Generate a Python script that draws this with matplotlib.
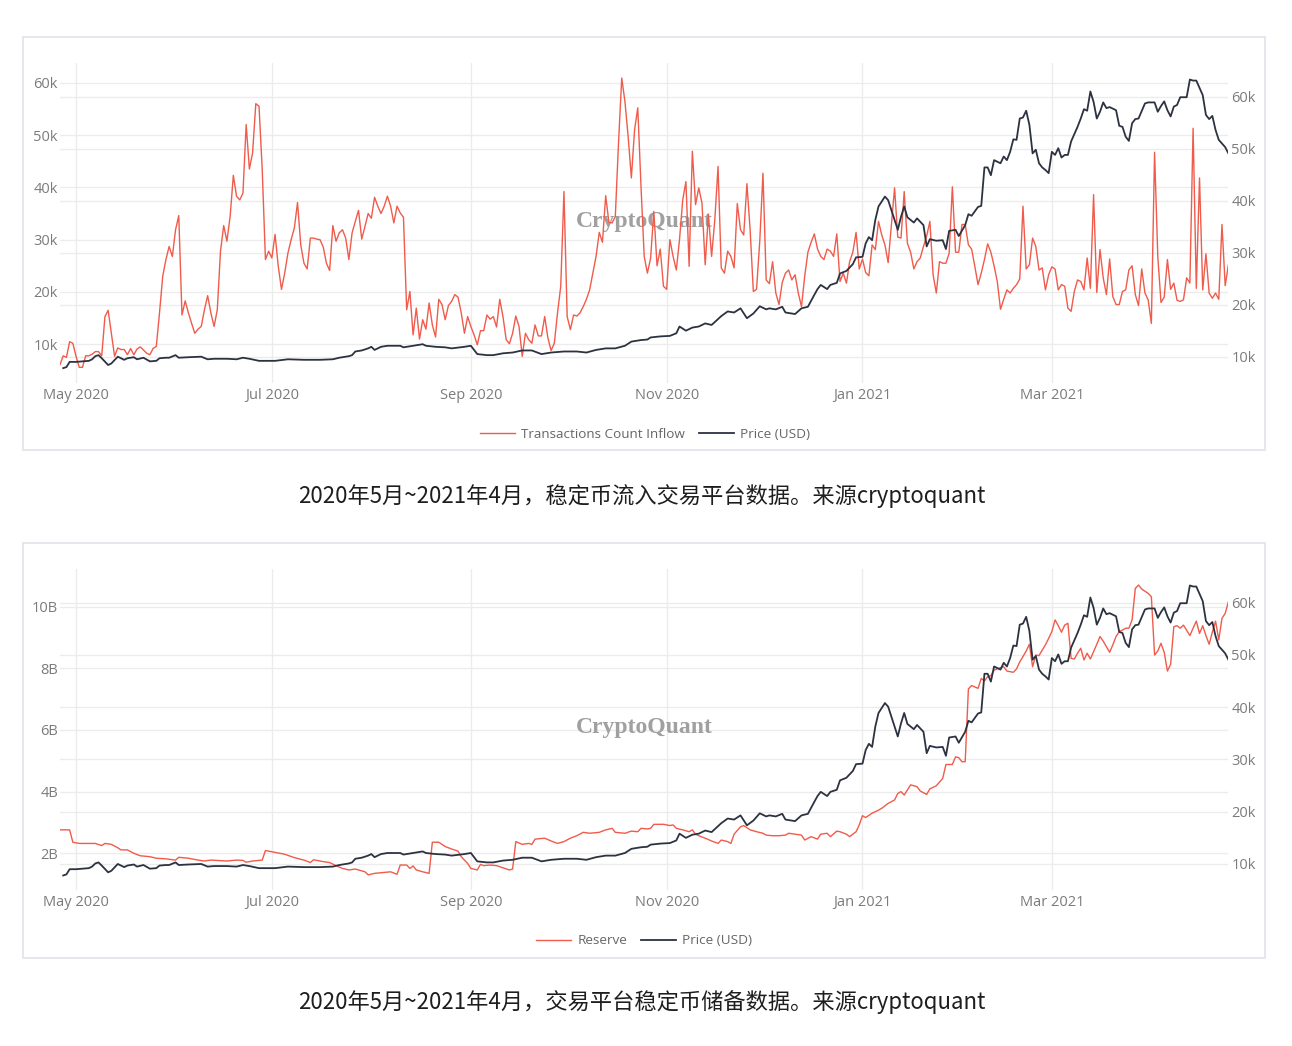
import matplotlib.pyplot as plt
import matplotlib.dates as mdates
from matplotlib.lines import Line2D
from matplotlib.patches import Rectangle
from matplotlib.ticker import FuncFormatter
import pandas as pd

plt.rcParams.update({
    "font.family": ["Open Sans", "Noto Sans CJK SC", "DejaVu Sans"],
    "font.size": 10,
    "axes.unicode_minus": False,
})

START = pd.Timestamp("2020-04-26")
END = pd.Timestamp("2021-04-25")

# stablecoin inflow transaction count (thousands), one value per day from START
inflow_k = [
    6.1, 7.8, 7.5, 10.5, 10.2, 7.7, 5.6, 5.6, 7.8, 7.8,
    8.1, 8.6, 8.6, 7.8, 15.3, 16.5, 12.1, 7.7, 9.3, 9.0,
    9.0, 8.0, 9.2, 8.0, 9.1, 9.5, 8.9, 8.3, 8.0, 9.2,
    9.6, 16.0, 23.0, 26.2, 28.7, 26.8, 31.9, 34.6, 15.6, 18.3,
    16.0, 14.0, 12.1, 12.9, 13.4, 16.6, 19.3, 16.0, 13.4, 16.6,
    27.8, 32.7, 29.7, 34.4, 42.3, 38.3, 37.6, 38.9, 52.0, 43.5,
    46.6, 56.0, 55.5, 43.4, 26.2, 27.8, 26.5, 31.0, 24.9, 20.5,
    23.6, 27.4, 30.0, 32.2, 37.1, 29.0, 25.5, 24.4, 30.3, 30.3,
    30.1, 30.0, 28.6, 25.5, 24.1, 32.7, 29.7, 31.3, 31.9, 30.3,
    26.2, 31.3, 33.5, 35.6, 30.1, 32.5, 35.0, 34.1, 38.1, 36.4,
    35.0, 36.4, 38.3, 36.4, 33.2, 36.4, 35.1, 34.3, 16.6, 20.1,
    11.8, 16.9, 11.0, 14.7, 12.9, 17.9, 13.7, 11.4, 18.6, 17.6,
    14.7, 17.4, 18.2, 19.5, 19.0, 16.0, 12.1, 15.3, 13.4, 11.8,
    9.9, 12.6, 12.6, 15.6, 14.8, 15.3, 13.3, 18.6, 15.3, 10.9,
    10.1, 12.1, 15.4, 13.4, 7.7, 12.1, 10.9, 10.2, 13.7, 11.6,
    11.6, 15.3, 11.2, 8.8, 10.2, 16.0, 21.1, 39.2, 15.3, 12.8,
    15.6, 15.4, 16.0, 17.2, 18.6, 20.4, 23.6, 26.8, 31.4, 29.5,
    38.4, 33.3, 33.2, 34.4, 48.5, 60.9, 56.4, 49.7, 41.8, 51.0,
    55.2, 40.2, 26.8, 23.6, 26.5, 35.4, 25.0, 28.2, 21.1, 20.5,
    30.0, 26.8, 24.2, 30.0, 37.6, 41.1, 24.9, 46.9, 36.7, 39.9,
    37.0, 25.2, 34.8, 26.8, 33.8, 44.0, 24.6, 23.6, 27.8, 26.8,
    24.6, 36.9, 31.9, 30.9, 40.7, 31.9, 20.1, 20.5, 29.7, 42.7,
    22.3, 21.6, 25.8, 19.8, 17.6, 21.8, 23.6, 24.2, 22.3, 23.3,
    19.8, 17.2, 23.0, 27.6, 29.5, 31.1, 28.2, 26.8, 26.2, 28.2,
    27.8, 26.8, 31.1, 22.0, 23.6, 21.7, 25.8, 27.6, 31.4, 24.4,
    26.3, 23.7, 23.1, 29.0, 28.1, 33.5, 30.9, 29.0, 25.6, 32.7,
    39.9, 30.5, 30.3, 39.2, 29.3, 27.6, 24.4, 25.8, 26.5, 28.7,
    30.7, 33.5, 23.3, 19.8, 25.8, 25.5, 25.5, 27.4, 40.1, 27.6,
    27.6, 32.9, 32.9, 29.0, 28.2, 24.9, 21.4, 23.6, 26.2, 29.2,
    27.6, 25.0, 22.0, 16.7, 18.6, 20.4, 19.8, 20.7, 21.4, 22.5,
    36.4, 24.4, 25.2, 30.3, 28.7, 24.2, 24.6, 20.4, 23.3, 24.8,
    24.4, 20.4, 21.4, 21.1, 16.9, 16.3, 20.1, 22.3, 22.0, 20.4,
    26.5, 20.7, 38.6, 19.9, 28.1, 22.7, 19.5, 26.3, 19.1, 17.6,
    17.6, 20.1, 20.4, 24.2, 25.0, 19.5, 17.4, 24.4, 19.8, 18.5,
    14.0, 46.7, 26.8, 18.0, 19.0, 26.2, 20.5, 21.7, 18.4, 18.2,
    18.5, 22.7, 21.7, 51.3, 20.7, 41.8, 20.4, 27.3, 19.8, 18.8,
    19.8, 18.6, 32.9, 21.2, 25.2,
]

# BTC price (thousand USD), day offset from START
price_day = [
    1, 2, 3, 5, 9, 10, 11, 12, 13, 15, 16, 18, 20, 21, 23, 24, 26, 28, 30, 31,
    33, 34, 36, 37, 40, 44, 46, 48, 52, 55, 57, 59, 62, 67, 71, 76, 81, 85, 87, 90,
    91, 92, 94, 96, 97, 98, 100, 102, 104, 106, 107, 110, 113, 114, 117, 120, 122, 126, 128, 129,
    130, 133, 135, 138, 141, 144, 147, 150, 153, 157, 161, 164, 167, 170, 173, 176, 178, 181, 183, 184,
    187, 190, 192, 193, 195, 197, 199, 201, 203, 206, 208, 210, 212, 214, 216, 218, 220, 221, 223, 225,
    226, 229, 231, 233, 235, 236, 237, 239, 240, 242, 243, 245, 247, 248, 250, 251, 252, 253, 254, 255,
    257, 258, 260, 261, 262, 263, 264, 266, 267, 269, 270, 271, 273, 275, 276, 277, 279, 280, 282, 283,
    284, 286, 287, 288, 289, 290, 291, 292, 293, 294, 295, 296, 297, 298, 299, 300, 301, 302, 303, 304,
    305, 306, 307, 308, 309, 310, 311, 312, 313, 314, 315, 317, 318, 319, 320, 321, 322, 323, 324, 325,
    326, 327, 329, 330, 331, 332, 333, 334, 335, 336, 338, 339, 341, 342, 343, 344, 345, 346, 347, 348,
    349, 351, 352, 353, 354, 356, 357, 358, 359, 360, 361, 362, 363, 364,
]
price_k = [
    7.8, 8.0, 9.0, 9.0, 9.2, 9.5, 10.1, 10.3, 9.7, 8.4, 8.7, 10.0, 9.4, 9.7, 9.9, 9.5, 9.8, 9.1, 9.2, 9.7,
    9.8, 9.8, 10.3, 9.8, 9.9, 10.0, 9.5, 9.6, 9.6, 9.5, 9.8, 9.6, 9.2, 9.2, 9.5, 9.4, 9.4, 9.5, 9.8, 10.1,
    10.3, 11.0, 11.2, 11.6, 11.9, 11.3, 11.9, 12.1, 12.1, 12.1, 11.8, 12.1, 12.4, 12.1, 11.9, 11.8, 11.6, 11.9, 12.1, 11.3,
    10.5, 10.3, 10.3, 10.65, 10.8, 11.2, 11.2, 10.5, 10.8, 11.0, 11.0, 10.8, 11.3, 11.6, 11.6, 12.1, 12.9, 13.2, 13.3, 13.7,
    13.9, 14.0, 14.5, 15.8, 15.0, 15.6, 15.8, 16.4, 16.1, 17.8, 18.7, 18.5, 19.3, 17.4, 18.3, 19.7, 19.1, 19.3, 19.1, 19.6,
    18.5, 18.2, 19.3, 19.6, 21.9, 23.0, 23.8, 23.0, 23.8, 24.2, 26.0, 26.5, 27.8, 29.1, 29.2, 31.8, 33.0, 32.4, 36.3, 38.9,
    40.8, 40.1, 36.3, 34.4, 36.9, 38.9, 36.8, 35.8, 36.6, 35.3, 31.2, 32.6, 32.3, 32.4, 30.7, 34.2, 34.4, 33.2, 35.3, 37.4,
    37.1, 38.8, 39.0, 46.4, 46.4, 44.9, 47.8, 47.5, 47.2, 48.5, 47.8, 49.4, 51.8, 51.7, 55.8, 56.0, 57.3, 54.6, 49.1, 49.8,
    47.2, 46.4, 45.9, 45.3, 49.4, 48.8, 50.1, 48.3, 48.8, 48.8, 51.4, 54.2, 55.8, 57.6, 57.3, 61.0, 59.0, 55.8, 57.1, 58.9,
    57.8, 58.0, 57.4, 54.4, 54.2, 52.3, 51.5, 54.9, 55.7, 55.8, 58.7, 58.9, 58.9, 57.1, 58.2, 59.1, 57.4, 56.2, 58.1, 58.4,
    59.9, 59.9, 63.3, 63.1, 63.1, 60.3, 56.5, 55.7, 56.3, 53.6, 51.7, 51.0, 50.3, 49.1,
]

# exchange stablecoin reserve (billion USD), day offset from START
reserve_day = [
    0, 3, 4, 6, 11, 13, 14, 16, 18, 19, 21, 23, 25, 28, 30, 33, 36, 37, 40, 43,
    45, 47, 50, 52, 55, 57, 58, 60, 62, 63, 64, 67, 70, 73, 76, 78, 79, 82, 84, 86,
    88, 90, 92, 95, 96, 98, 101, 103, 105, 106, 108, 109, 110, 111, 113, 115, 116, 118, 120, 122,
    124, 125, 127, 128, 130, 131, 132, 134, 136, 138, 140, 141, 142, 144, 146, 147, 148, 151, 153, 155,
    157, 159, 161, 163, 165, 168, 170, 172, 173, 176, 178, 180, 181, 183, 184, 185, 188, 190, 191, 192,
    194, 196, 197, 198, 199, 201, 203, 205, 206, 208, 209, 210, 212, 213, 215, 217, 219, 220, 222, 224,
    226, 227, 229, 231, 232, 234, 236, 237, 239, 240, 242, 243, 245, 246, 248, 249, 250, 251, 253, 255,
    256, 258, 260, 261, 262, 263, 265, 267, 268, 270, 271, 273, 275, 276, 278, 279, 280, 281, 282, 283,
    284, 286, 287, 288, 289, 290, 291, 293, 294, 295, 297, 298, 299, 300, 301, 302, 303, 304, 305, 306,
    307, 308, 309, 310, 311, 312, 313, 314, 315, 316, 317, 318, 319, 320, 321, 322, 323, 324, 325, 327,
    328, 329, 330, 331, 332, 333, 334, 335, 336, 337, 339, 340, 341, 342, 343, 344, 345, 346, 347, 348,
    349, 350, 352, 353, 354, 355, 356, 357, 358, 359, 360, 361, 362, 363, 364,
]
reserve_b = [
    2.76, 2.76, 2.36, 2.32, 2.32, 2.25, 2.32, 2.29, 2.18, 2.11, 2.11, 2.00, 1.92, 1.89, 1.84, 1.82, 1.78, 1.87, 1.84, 1.78,
    1.75, 1.78, 1.76, 1.75, 1.78, 1.77, 1.71, 1.75, 1.77, 1.78, 2.09, 2.03, 1.97, 1.86, 1.78, 1.70, 1.79, 1.73, 1.70, 1.60,
    1.51, 1.46, 1.49, 1.40, 1.30, 1.35, 1.38, 1.40, 1.32, 1.62, 1.62, 1.51, 1.59, 1.46, 1.40, 1.35, 2.36, 2.36, 2.22, 2.14,
    2.07, 1.89, 1.67, 1.51, 1.46, 1.64, 1.60, 1.62, 1.60, 1.53, 1.46, 1.49, 2.38, 2.29, 2.32, 2.29, 2.46, 2.49, 2.40, 2.32,
    2.38, 2.49, 2.57, 2.68, 2.65, 2.68, 2.76, 2.81, 2.68, 2.65, 2.72, 2.70, 2.81, 2.79, 2.81, 2.94, 2.94, 2.90, 2.92, 2.81,
    2.76, 2.70, 2.76, 2.62, 2.57, 2.49, 2.40, 2.32, 2.43, 2.38, 2.32, 2.62, 2.86, 2.90, 2.76, 2.70, 2.65, 2.59, 2.57, 2.57,
    2.59, 2.65, 2.62, 2.59, 2.43, 2.54, 2.46, 2.62, 2.65, 2.54, 2.72, 2.70, 2.62, 2.54, 2.70, 2.92, 3.22, 3.16, 3.30, 3.40,
    3.46, 3.62, 3.73, 3.94, 4.00, 3.89, 4.22, 4.16, 4.02, 3.91, 4.09, 4.19, 4.43, 4.88, 4.88, 5.13, 5.10, 4.97, 4.97, 7.33,
    7.44, 7.35, 7.67, 7.59, 7.73, 7.76, 7.94, 8.02, 8.05, 7.91, 7.87, 7.98, 8.21, 8.38, 8.56, 8.78, 8.05, 8.43, 8.41, 8.59,
    8.76, 8.97, 9.19, 9.57, 9.38, 9.17, 9.40, 9.46, 8.32, 8.30, 8.49, 8.65, 8.27, 8.49, 8.30, 8.54, 8.78, 9.03, 8.88, 8.52,
    8.76, 9.03, 9.19, 9.24, 9.30, 9.30, 9.57, 10.59, 10.70, 10.57, 10.43, 10.32, 8.43, 8.56, 8.81, 8.52, 7.91, 8.13, 9.35, 9.38,
    9.30, 9.40, 9.06, 9.30, 9.53, 9.13, 9.38, 9.06, 8.78, 9.17, 9.53, 8.92, 9.62, 9.78, 10.16,
]

RED = "#f05b4b"
DARK = "#2d3241"
GRID = "#ececec"
TICK = "#7b7b7b"
W, H = 1292, 1046


def to_dates(days):
    return START + pd.to_timedelta(days, unit="D")


def style_panel(ax, axr, ylim_l, ylim_r, left_ticks, left_fmt, right_ticks):
    ax.set_xlim(START, END)
    ax.set_ylim(*ylim_l)
    axr.set_ylim(*ylim_r)
    ax.set_yticks(left_ticks)
    axr.set_yticks(right_ticks)
    ax.yaxis.set_major_formatter(FuncFormatter(left_fmt))
    axr.yaxis.set_major_formatter(FuncFormatter(lambda v, p: f"{v:.0f}k"))
    ax.xaxis.set_major_locator(mdates.MonthLocator(bymonth=[1, 3, 5, 7, 9, 11]))
    ax.xaxis.set_major_formatter(mdates.DateFormatter("%b %Y"))
    ax.set_axisbelow(True)
    ax.grid(True, color=GRID, lw=1.0)
    # right-axis gridlines, drawn in the left axes so they stay under the lines
    l0, l1 = ylim_l
    r0, r1 = ylim_r
    for t in right_ticks:
        ax.axhline(l0 + (t - r0) * (l1 - l0) / (r1 - r0), color=GRID, lw=1.0, zorder=0.5)
    for a in (ax, axr):
        for s in a.spines.values():
            s.set_visible(False)
        a.tick_params(length=0, colors=TICK, labelsize=10.5)
    ax.tick_params(axis="y", pad=1.5)
    axr.tick_params(axis="y", pad=2)
    ax.tick_params(axis="x", pad=3.5)
    ax.text(0.5, 0.505, "CryptoQuant", transform=ax.transAxes, ha="center", va="center",
            family="Liberation Serif", weight="bold", fontsize=17, color="#a0a0a0", zorder=1)


def main():
    fig = plt.figure(figsize=(W / 100, H / 100), dpi=100)
    fig.patch.set_facecolor("white")

    # panel frames
    for top, bottom in [(37, 450), (543, 958)]:
        fig.add_artist(Rectangle((23 / W, 1 - bottom / H), (1265 - 23) / W, (bottom - top) / H,
                                 transform=fig.transFigure, fill=False,
                                 edgecolor="#e2e5ea", lw=1.3))

    ax_w = 1168.4 / W
    ax1 = fig.add_axes([60 / W, 1 - 383 / H, ax_w, 320 / H])
    ax1r = ax1.twinx()
    ax1.plot(pd.date_range(START, periods=len(inflow_k)), inflow_k, color=RED, lw=1.0, zorder=2)
    ax1r.plot(to_dates(price_day), price_k, color=DARK, lw=1.3)
    style_panel(ax1, ax1r, (2.6, 63.77), (4.94, 66.48),
                [10, 20, 30, 40, 50, 60], lambda v, p: f"{v:.0f}k",
                [10, 20, 30, 40, 50, 60])

    ax2 = fig.add_axes([60 / W, 1 - 890 / H, ax_w, 321 / H])
    ax2r = ax2.twinx()
    ax2.plot(to_dates(reserve_day), reserve_b, color=RED, lw=1.0, zorder=2)
    ax2r.plot(to_dates(price_day), price_k, color=DARK, lw=1.3)
    style_panel(ax2, ax2r, (0.81, 11.22), (5.02, 66.45),
                [2, 4, 6, 8, 10], lambda v, p: f"{v:.0f}B",
                [10, 20, 30, 40, 50, 60])

    leg_kw = dict(loc="center", ncol=2, frameon=False, fontsize=9.7, labelcolor="#666666",
                  handlelength=2.6, handletextpad=0.45, columnspacing=1.0)
    fig.legend([Line2D([], [], color=RED, lw=1.0), Line2D([], [], color=DARK, lw=1.3)],
               ["Transactions Count Inflow", "Price (USD)"],
               bbox_to_anchor=(645 / W, 1 - 434 / H), **leg_kw)
    fig.legend([Line2D([], [], color=RED, lw=1.0), Line2D([], [], color=DARK, lw=1.3)],
               ["Reserve", "Price (USD)"],
               bbox_to_anchor=(644 / W, 1 - 941 / H), **leg_kw)

    cap_kw = dict(ha="center", va="center", fontsize=16, color="#1e1e1e",
                  family=["Noto Sans CJK SC", "DejaVu Sans"])
    fig.text(642 / W, 1 - 496 / H, "2020年5月~2021年4月，稳定币流入交易平台数据。来源cryptoquant", **cap_kw)
    fig.text(642 / W, 1 - 1002 / H, "2020年5月~2021年4月，交易平台稳定币储备数据。来源cryptoquant", **cap_kw)

    fig.savefig("out.png", dpi=100)


if __name__ == "__main__":
    main()
